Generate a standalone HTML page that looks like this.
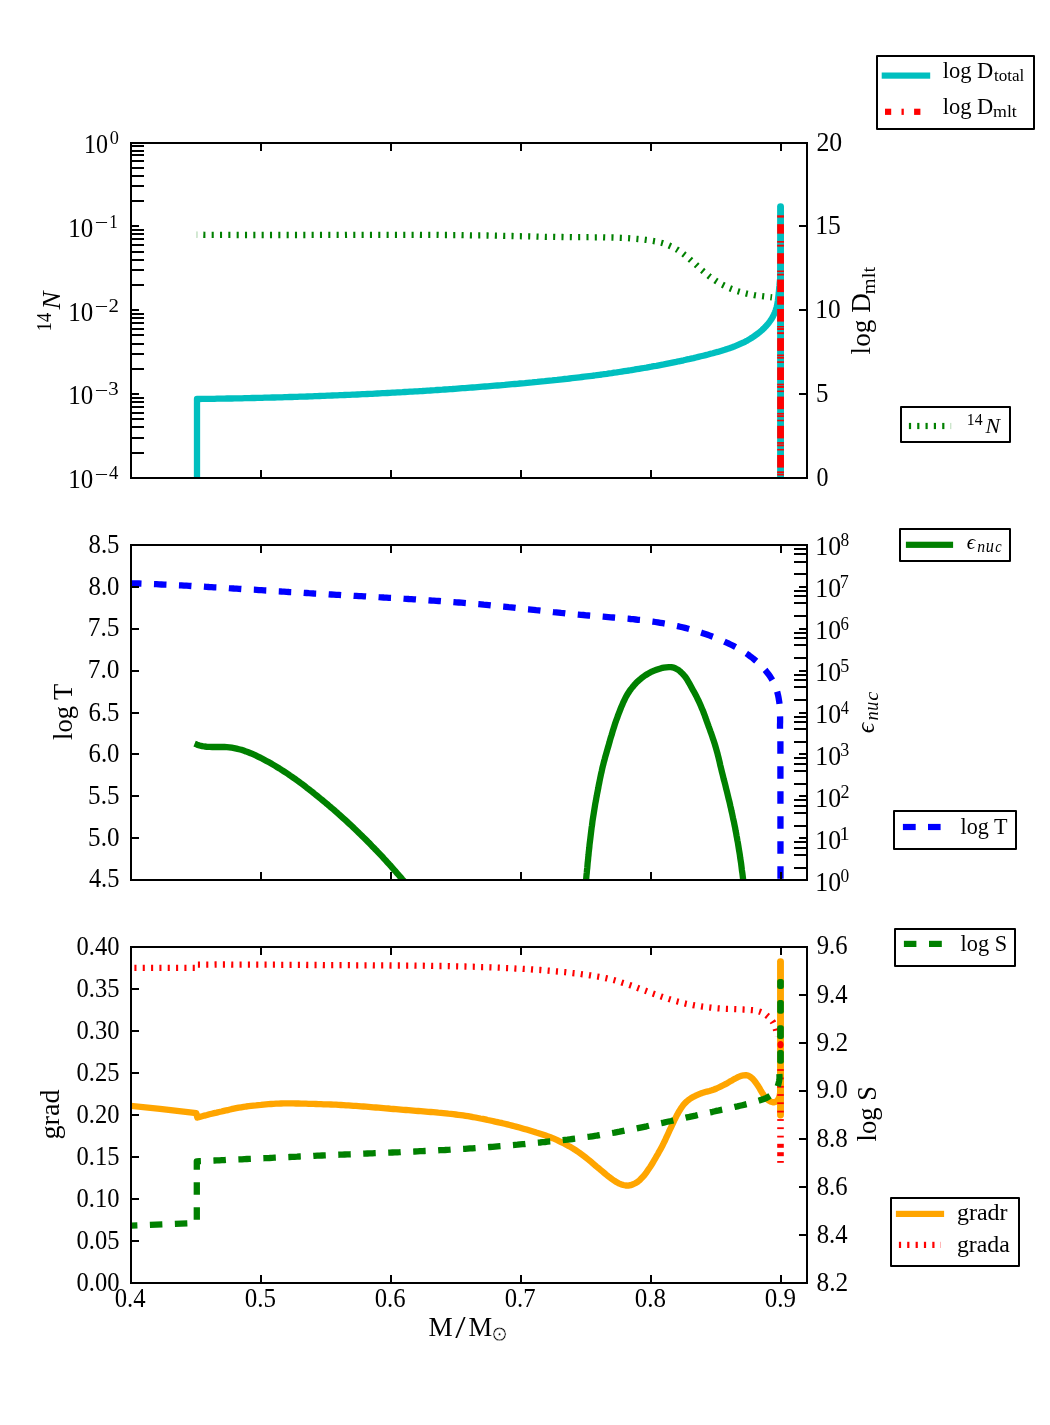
<!DOCTYPE html>
<html lang="en">
<head>
<meta charset="utf-8">
<title>Stellar profile</title>
<style>
html,body{margin:0;padding:0;background:#fff;}
body{width:1050px;height:1425px;overflow:hidden;}
svg{display:block;font-family:"Liberation Serif","DejaVu Serif",serif;fill:#000;}
</style>
</head>
<body>
<svg width="1050" height="1425" viewBox="0 0 1050 1425">
<rect x="0" y="0" width="1050" height="1425" fill="#fff"/>
<defs>
<clipPath id="c0"><rect x="131.00" y="143.00" width="676.00" height="335.00"/></clipPath>
<clipPath id="c1"><rect x="131.00" y="545.00" width="676.00" height="335.00"/></clipPath>
<clipPath id="c2"><rect x="131.00" y="947.00" width="676.00" height="336.00"/></clipPath>
</defs>
<g clip-path="url(#c0)">
<path d="M197.0 234.7L199.5 234.7L202.0 234.7L204.5 234.8L207.0 234.8L209.5 234.8L212.0 234.8L214.5 234.8L217.0 234.9L219.5 234.9L222.0 234.9L224.5 234.9L227.0 234.9L229.5 234.9L232.0 234.9L234.5 235.0L237.0 235.0L239.5 235.0L242.0 235.0L244.5 235.0L247.1 235.0L249.6 235.0L252.1 235.0L254.6 235.0L257.1 235.0L259.6 235.0L262.1 235.0L264.6 235.0L267.1 235.0L269.6 235.0L272.1 235.0L274.6 235.0L277.1 235.0L279.6 235.0L282.1 235.0L284.6 235.0L287.1 235.0L289.7 235.0L292.2 235.0L294.7 235.0L297.2 235.0L299.7 235.0L302.2 235.0L304.7 235.0L307.2 235.0L309.7 234.9L312.2 234.9L314.7 234.9L317.2 234.9L319.7 234.9L322.2 234.9L324.7 234.9L327.3 234.9L329.8 234.9L332.3 234.9L334.8 234.9L337.3 234.9L339.8 234.9L342.3 234.9L344.8 234.9L347.3 234.8L349.8 234.8L352.3 234.8L354.8 234.8L357.3 234.8L359.9 234.8L362.4 234.8L364.9 234.8L367.4 234.8L369.9 234.8L372.4 234.8L374.9 234.8L377.4 234.8L379.9 234.8L382.4 234.8L384.9 234.8L387.4 234.8L389.9 234.8L392.4 234.8L394.9 234.8L397.5 234.8L400.0 234.8L402.5 234.8L405.0 234.8L407.5 234.8L410.0 234.8L412.5 234.8L415.0 234.8L417.5 234.8L420.0 234.9L422.5 234.9L425.0 234.9L427.5 234.9L430.0 234.9L432.5 234.9L435.0 234.9L437.5 234.9L440.0 235.0L442.5 235.0L445.0 235.0L447.5 235.0L450.0 235.0L452.5 235.1L455.0 235.1L457.5 235.1L460.0 235.1L462.5 235.2L465.0 235.2L467.6 235.2L470.1 235.3L472.6 235.3L475.1 235.3L477.6 235.4L480.1 235.4L482.5 235.4L485.0 235.5L487.5 235.5L490.0 235.6L492.5 235.6L495.0 235.7L497.5 235.7L500.0 235.8L502.5 235.8L505.0 235.9L507.5 235.9L510.0 236.0L512.5 236.0L515.0 236.1L517.5 236.2L520.0 236.2L522.5 236.3L525.0 236.3L527.5 236.4L530.0 236.4L532.5 236.5L535.0 236.5L537.5 236.6L540.0 236.7L542.5 236.7L545.0 236.8L547.5 236.8L550.0 236.8L552.5 236.9L555.1 236.9L557.6 237.0L560.1 237.0L562.6 237.0L565.1 237.1L567.6 237.1L570.2 237.1L572.7 237.2L575.2 237.2L577.7 237.2L580.3 237.2L582.8 237.2L585.3 237.2L587.8 237.2L590.4 237.2L592.9 237.3L595.4 237.3L598.0 237.3L600.5 237.3L603.0 237.3L605.6 237.4L608.1 237.4L610.6 237.5L613.1 237.5L615.6 237.6L618.1 237.7L620.7 237.8L623.2 237.9L625.7 238.1L628.1 238.2L630.6 238.4L633.1 238.6L635.6 238.8L638.0 239.0L640.5 239.2L643.0 239.5L645.4 239.8L647.8 240.1L650.3 240.5L652.7 240.9L655.1 241.3L657.5 241.8L659.8 242.4L662.2 243.0L664.5 243.7L666.8 244.5L669.1 245.5L671.3 246.5L673.5 247.6L675.7 248.8L677.8 250.0L679.9 251.4L682.0 252.8L684.0 254.4L686.0 255.9L688.0 257.6L689.9 259.3L691.8 261.0L693.8 262.7L695.7 264.4L697.6 266.2L699.5 267.9L701.4 269.7L703.3 271.3L705.3 273.0L707.2 274.6L709.2 276.2L711.2 277.7L713.3 279.1L715.3 280.5L717.4 281.8L719.5 283.1L721.6 284.3L723.8 285.4L726.0 286.5L728.2 287.6L730.4 288.5L732.7 289.4L735.0 290.3L737.3 291.1L739.7 291.8L742.0 292.5L744.5 293.1L746.9 293.7L749.3 294.2L751.8 294.6L754.3 295.1L756.8 295.5L759.3 295.8L761.8 296.2L764.4 296.5L766.9 296.8L769.5 297.0L772.0 297.3" fill="none" stroke="#008000" stroke-width="6.30" stroke-linejoin="round" stroke-linecap="butt" stroke-dasharray="2.08 6.25" stroke-dashoffset="2.00"/>
<rect x="196.40" y="231.40" width="0.90" height="6.60" fill="#008000" opacity="0.3"/>
<path d="M197 480L197 399.0L197.0 399.0L199.5 399.0L202.0 398.9L204.5 398.9L207.0 398.9L209.5 398.8L212.0 398.8L214.5 398.8L217.0 398.7L219.5 398.7L222.0 398.6L224.5 398.6L227.0 398.5L229.5 398.5L232.0 398.5L234.5 398.4L237.0 398.4L239.5 398.3L242.0 398.3L244.6 398.2L247.1 398.2L249.6 398.1L252.1 398.0L254.6 398.0L257.1 397.9L259.6 397.9L262.1 397.8L264.6 397.7L267.1 397.7L269.6 397.6L272.1 397.5L274.6 397.5L277.1 397.4L279.6 397.3L282.1 397.3L284.6 397.2L287.1 397.1L289.6 397.0L292.1 397.0L294.7 396.9L297.2 396.8L299.7 396.7L302.2 396.6L304.7 396.6L307.2 396.5L309.7 396.4L312.2 396.3L314.7 396.2L317.2 396.1L319.7 396.0L322.2 395.9L324.7 395.8L327.2 395.7L329.7 395.6L332.2 395.5L334.8 395.4L337.3 395.3L339.8 395.2L342.3 395.1L344.8 395.0L347.3 394.9L349.8 394.8L352.3 394.7L354.8 394.6L357.3 394.5L359.8 394.4L362.3 394.2L364.8 394.1L367.3 394.0L369.8 393.9L372.3 393.8L374.8 393.6L377.3 393.5L379.8 393.4L382.4 393.2L384.9 393.1L387.4 393.0L389.9 392.9L392.4 392.7L394.9 392.6L397.4 392.4L399.9 392.3L402.4 392.2L404.9 392.0L407.4 391.9L409.9 391.7L412.4 391.6L414.9 391.4L417.4 391.3L419.9 391.1L422.4 391.0L424.9 390.8L427.4 390.6L429.9 390.5L432.4 390.3L434.9 390.2L437.4 390.0L439.9 389.8L442.4 389.7L444.9 389.5L447.4 389.3L449.9 389.1L452.4 389.0L454.9 388.8L457.4 388.6L459.9 388.4L462.4 388.2L464.9 388.1L467.4 387.9L469.9 387.7L472.4 387.5L474.9 387.3L477.4 387.1L479.9 386.9L482.4 386.7L484.9 386.5L487.4 386.3L489.9 386.1L492.4 385.9L494.9 385.7L497.4 385.5L499.9 385.3L502.3 385.1L504.8 384.9L507.3 384.6L509.8 384.4L512.3 384.2L514.8 384.0L517.3 383.8L519.8 383.5L522.3 383.3L524.8 383.1L527.3 382.8L529.8 382.6L532.2 382.4L534.7 382.1L537.2 381.9L539.7 381.6L542.2 381.4L544.7 381.2L547.2 380.9L549.7 380.6L552.2 380.4L554.6 380.1L557.1 379.9L559.6 379.6L562.1 379.3L564.6 379.0L567.1 378.8L569.6 378.5L572.0 378.2L574.5 377.9L577.0 377.6L579.5 377.3L582.0 377.0L584.5 376.7L586.9 376.4L589.4 376.1L591.9 375.8L594.4 375.5L596.9 375.1L599.4 374.8L601.8 374.5L604.3 374.1L606.8 373.8L609.3 373.4L611.8 373.1L614.2 372.7L616.7 372.4L619.2 372.0L621.7 371.6L624.2 371.2L626.6 370.8L629.1 370.5L631.6 370.1L634.1 369.7L636.6 369.2L639.0 368.8L641.5 368.4L644.0 368.0L646.5 367.6L649.0 367.1L651.4 366.7L653.9 366.2L656.4 365.8L658.9 365.3L661.3 364.8L663.8 364.4L666.3 363.9L668.8 363.4L671.3 362.9L673.7 362.4L676.2 361.9L678.7 361.3L681.2 360.8L683.6 360.3L686.1 359.7L688.6 359.2L691.0 358.6L693.5 358.1L695.9 357.5L698.4 356.9L700.8 356.3L703.3 355.7L705.7 355.1L708.1 354.5L710.5 353.8L712.9 353.2L715.3 352.5L717.7 351.9L720.1 351.2L722.5 350.5L724.8 349.8L727.1 349.0L729.5 348.3L731.8 347.4L734.1 346.6L736.3 345.7L738.6 344.7L740.8 343.7L743.1 342.7L745.3 341.6L747.5 340.4L749.7 339.1L751.8 337.8L753.9 336.4L756.0 334.9L758.1 333.4L760.0 331.8L762.0 330.1L763.8 328.4L765.6 326.6L767.3 324.7L768.9 322.8L770.3 320.8L771.7 318.7L772.9 316.6L774.0 314.4L775.0 312.2L775.8 310.0L776.5 307.6L777.1 305.3L777.5 302.9L777.9 300.4L778.2 297.9L778.5 295.4L778.8 292.9L779.0 290.4L779.2 287.8L779.5 285.3L779.7 282.7L780.0 280.1L780.3 277.6L780.6 275.0L780.6 260" fill="none" stroke="#00bfbf" stroke-width="6.30" stroke-linejoin="round" stroke-linecap="butt"/>
<path d="M780.55 480L780.55 206.6" fill="none" stroke="#00bfbf" stroke-width="6.90" stroke-linejoin="round" stroke-linecap="round"/>
<rect x="777.15" y="215.30" width="6.80" height="2.30" fill="#ff0000"/>
<rect x="777.15" y="224.20" width="6.80" height="9.50" fill="#ff0000"/>
<rect x="777.15" y="241.00" width="6.80" height="1.70" fill="#ff0000"/>
<rect x="777.15" y="244.70" width="6.80" height="1.90" fill="#ff0000"/>
<rect x="777.15" y="253.20" width="6.80" height="10.50" fill="#ff0000"/>
<rect x="777.15" y="270.50" width="6.80" height="1.60" fill="#ff0000"/>
<rect x="777.15" y="273.70" width="6.80" height="1.80" fill="#ff0000"/>
<rect x="777.15" y="279.50" width="6.80" height="12.60" fill="#ff0000"/>
<rect x="777.15" y="296.30" width="6.80" height="8.40" fill="#ff0000"/>
<rect x="777.15" y="309.00" width="6.80" height="12.60" fill="#ff0000"/>
<rect x="777.15" y="326.00" width="6.80" height="1.50" fill="#ff0000"/>
<rect x="777.15" y="328.10" width="6.80" height="1.90" fill="#ff0000"/>
<rect x="777.15" y="332.20" width="6.80" height="1.90" fill="#ff0000"/>
<rect x="777.15" y="338.20" width="6.80" height="12.60" fill="#ff0000"/>
<rect x="777.15" y="354.50" width="6.80" height="1.70" fill="#ff0000"/>
<rect x="777.15" y="356.80" width="6.80" height="1.90" fill="#ff0000"/>
<rect x="777.15" y="361.30" width="6.80" height="1.60" fill="#ff0000"/>
<rect x="777.15" y="367.40" width="6.80" height="12.60" fill="#ff0000"/>
<rect x="777.15" y="383.70" width="6.80" height="1.70" fill="#ff0000"/>
<rect x="777.15" y="386.00" width="6.80" height="1.90" fill="#ff0000"/>
<rect x="777.15" y="390.50" width="6.80" height="1.60" fill="#ff0000"/>
<rect x="777.15" y="396.60" width="6.80" height="12.60" fill="#ff0000"/>
<rect x="777.15" y="412.90" width="6.80" height="1.70" fill="#ff0000"/>
<rect x="777.15" y="415.20" width="6.80" height="1.90" fill="#ff0000"/>
<rect x="777.15" y="419.70" width="6.80" height="1.60" fill="#ff0000"/>
<rect x="777.15" y="425.80" width="6.80" height="12.60" fill="#ff0000"/>
<rect x="777.15" y="442.10" width="6.80" height="1.70" fill="#ff0000"/>
<rect x="777.15" y="444.40" width="6.80" height="1.90" fill="#ff0000"/>
<rect x="777.15" y="448.90" width="6.80" height="1.60" fill="#ff0000"/>
<rect x="777.15" y="455.00" width="6.80" height="12.60" fill="#ff0000"/>
<rect x="777.15" y="471.30" width="6.80" height="1.70" fill="#ff0000"/>
<rect x="777.15" y="473.60" width="6.80" height="1.90" fill="#ff0000"/>
<rect x="777.15" y="478.10" width="6.80" height="1.60" fill="#ff0000"/>
</g>
<g clip-path="url(#c1)">
<path d="M129.0 583.2L131.5 583.3L134.0 583.4L136.5 583.5L139.0 583.5L141.5 583.6L144.0 583.7L146.5 583.8L149.0 583.9L151.5 584.0L154.0 584.1L156.5 584.2L159.0 584.4L161.5 584.5L164.0 584.6L166.5 584.7L169.0 584.8L171.5 584.9L174.0 585.1L176.5 585.2L179.0 585.3L181.5 585.4L184.0 585.6L186.5 585.7L189.0 585.8L191.5 586.0L194.0 586.1L196.5 586.3L199.0 586.4L201.5 586.5L204.0 586.7L206.5 586.8L209.0 587.0L211.5 587.1L214.0 587.3L216.5 587.4L219.0 587.6L221.5 587.7L224.0 587.9L226.5 588.0L229.0 588.2L231.5 588.3L234.0 588.5L236.5 588.6L239.0 588.8L241.5 589.0L244.0 589.1L246.5 589.3L249.0 589.4L251.5 589.6L254.0 589.7L256.5 589.9L259.0 590.1L261.5 590.2L264.0 590.4L266.5 590.5L269.0 590.7L271.5 590.9L274.0 591.0L276.5 591.2L279.0 591.3L281.5 591.5L284.0 591.6L286.5 591.8L289.0 592.0L291.5 592.1L294.0 592.3L296.5 592.4L299.0 592.6L301.5 592.7L304.0 592.9L306.5 593.0L309.0 593.2L311.5 593.3L314.0 593.5L316.5 593.6L319.0 593.8L321.5 593.9L324.0 594.1L326.5 594.2L328.9 594.4L331.4 594.5L333.9 594.6L336.4 594.8L338.9 594.9L341.4 595.1L343.9 595.2L346.4 595.4L348.9 595.5L351.4 595.6L353.9 595.8L356.4 595.9L358.9 596.1L361.4 596.2L363.9 596.3L366.4 596.5L368.9 596.6L371.4 596.8L373.9 596.9L376.4 597.0L378.9 597.2L381.4 597.3L383.9 597.5L386.4 597.6L388.9 597.8L391.4 597.9L393.9 598.1L396.4 598.2L398.9 598.4L401.4 598.5L403.9 598.7L406.4 598.8L408.9 599.0L411.4 599.1L413.9 599.3L416.4 599.5L418.9 599.6L421.3 599.8L423.8 600.0L426.3 600.1L428.8 600.3L431.3 600.5L433.8 600.6L436.3 600.8L438.8 601.0L441.3 601.2L443.8 601.4L446.3 601.5L448.8 601.7L451.3 601.9L453.8 602.1L456.3 602.3L458.8 602.5L461.3 602.7L463.8 602.9L466.3 603.1L468.8 603.3L471.3 603.6L473.8 603.8L476.3 604.0L478.8 604.2L481.2 604.4L483.7 604.7L486.2 604.9L488.7 605.1L491.2 605.4L493.7 605.6L496.2 605.9L498.7 606.1L501.2 606.4L503.7 606.6L506.2 606.9L508.7 607.2L511.2 607.4L513.7 607.7L516.2 608.0L518.7 608.2L521.2 608.5L523.7 608.8L526.1 609.1L528.6 609.3L531.1 609.6L533.6 609.9L536.1 610.2L538.6 610.4L541.1 610.7L543.6 611.0L546.1 611.3L548.6 611.5L551.1 611.8L553.6 612.1L556.1 612.3L558.5 612.6L561.0 612.9L563.5 613.1L566.0 613.4L568.5 613.6L571.0 613.9L573.5 614.1L576.0 614.4L578.5 614.6L580.9 614.8L583.4 615.0L585.9 615.3L588.4 615.5L590.9 615.7L593.4 615.9L595.9 616.1L598.3 616.3L600.8 616.5L603.3 616.7L605.8 616.9L608.3 617.1L610.8 617.3L613.2 617.5L615.7 617.7L618.2 617.9L620.7 618.1L623.2 618.3L625.6 618.5L628.1 618.7L630.6 619.0L633.1 619.2L635.6 619.5L638.0 619.8L640.5 620.0L643.0 620.3L645.5 620.6L647.9 620.9L650.4 621.3L652.9 621.6L655.4 622.0L657.8 622.4L660.3 622.8L662.8 623.2L665.2 623.6L667.7 624.1L670.2 624.6L672.7 625.1L675.1 625.6L677.6 626.1L680.1 626.7L682.5 627.3L685.0 627.9L687.4 628.5L689.9 629.2L692.3 629.9L694.8 630.6L697.2 631.3L699.6 632.1L702.1 632.9L704.5 633.7L706.9 634.5L709.2 635.4L711.6 636.3L714.0 637.2L716.3 638.1L718.6 639.1L720.9 640.0L723.2 641.0L725.5 642.1L727.8 643.1L730.0 644.2L732.2 645.3L734.4 646.4L736.6 647.6L738.7 648.8L740.9 650.0L743.0 651.3L745.0 652.6L747.1 654.0L749.1 655.4L751.1 656.9L753.0 658.4L754.9 660.0L756.8 661.6L758.7 663.3L760.5 665.1L762.3 666.9L764.0 668.8L765.7 670.7L767.3 672.7L768.9 674.7L770.3 676.8L771.6 678.9L772.9 681.1L774.0 683.3L775.0 685.5L775.9 687.8L776.7 690.2L777.4 692.5L778.0 694.9L778.5 697.3L778.9 699.7L779.3 702.2L779.6 704.7L779.7 707.2L779.9 709.7L780.0 712.2L780.0 714.7L780.1 717.3L780.1 719.8L780.1 722.4L780.0 724.9L780.0 727.4L780.0 730.0L780.1 732.5L780.1 735.0L780.2 737.5L780.4 740.0L780.5 885" fill="none" stroke="#0000ff" stroke-width="6.30" stroke-linejoin="round" stroke-linecap="butt" stroke-dasharray="12.5 12.5"/>
<path d="M194.6 743.7L197.1 744.7L199.6 745.5L202.2 746.1L204.7 746.5L207.2 746.8L209.7 746.9L212.2 747.0L214.6 747.0L217.1 747.0L219.6 747.0L222.0 747.0L224.5 747.0L226.9 747.1L229.3 747.3L231.7 747.7L234.1 748.1L236.5 748.6L238.9 749.2L241.3 749.8L243.6 750.6L245.9 751.4L248.3 752.3L250.6 753.2L252.9 754.2L255.2 755.2L257.5 756.3L259.7 757.4L262.0 758.5L264.2 759.7L266.4 760.9L268.6 762.1L270.8 763.3L273.0 764.6L275.2 765.9L277.3 767.2L279.5 768.5L281.6 769.9L283.7 771.2L285.9 772.6L288.0 774.0L290.0 775.5L292.1 776.9L294.2 778.3L296.2 779.8L298.3 781.3L300.3 782.8L302.4 784.3L304.4 785.8L306.4 787.4L308.4 788.9L310.4 790.5L312.4 792.0L314.3 793.6L316.3 795.2L318.3 796.8L320.2 798.4L322.2 800.0L324.1 801.6L326.0 803.2L328.0 804.8L329.9 806.5L331.8 808.1L333.7 809.7L335.6 811.4L337.5 813.0L339.3 814.7L341.2 816.4L343.1 818.1L344.9 819.7L346.8 821.4L348.6 823.1L350.5 824.8L352.3 826.5L354.1 828.3L355.9 830.0L357.7 831.7L359.5 833.5L361.3 835.2L363.1 837.0L364.9 838.7L366.7 840.5L368.4 842.3L370.2 844.1L371.9 845.9L373.7 847.7L375.4 849.5L377.2 851.3L378.9 853.1L380.6 854.9L382.3 856.7L384.0 858.6L385.7 860.4L387.4 862.3L389.1 864.2L390.8 866.0L392.4 867.9L394.1 869.8L395.8 871.7L397.4 873.6L399.1 875.5L400.7 877.4L402.3 879.3L404.0 881.2L405.6 883.2L407.2 885.1L408.8 887.1L410.4 889.0L412.0 891.0" fill="none" stroke="#008000" stroke-width="6.30" stroke-linejoin="round" stroke-linecap="butt"/>
<path d="M584.5 895.0L584.8 892.5L585.0 890.0L585.3 887.5L585.5 885.0L585.8 882.6L586.1 880.1L586.3 877.6L586.5 875.1L586.8 872.6L587.0 870.1L587.3 867.6L587.5 865.1L587.7 862.6L588.0 860.2L588.2 857.7L588.5 855.2L588.7 852.7L589.0 850.2L589.3 847.7L589.5 845.2L589.8 842.7L590.1 840.3L590.4 837.8L590.7 835.3L591.0 832.8L591.3 830.3L591.6 827.8L592.0 825.4L592.3 822.9L592.6 820.4L593.0 817.9L593.4 815.5L593.8 813.0L594.2 810.5L594.6 808.1L595.0 805.6L595.4 803.1L595.9 800.7L596.3 798.2L596.8 795.7L597.2 793.3L597.7 790.8L598.2 788.4L598.6 785.9L599.1 783.5L599.6 781.0L600.1 778.5L600.6 776.1L601.1 773.7L601.7 771.2L602.2 768.8L602.8 766.3L603.4 763.9L604.0 761.5L604.7 759.1L605.3 756.7L606.0 754.3L606.7 751.8L607.4 749.4L608.1 747.0L608.8 744.6L609.5 742.2L610.1 739.8L610.8 737.4L611.6 735.0L612.3 732.6L613.0 730.2L613.8 727.8L614.5 725.5L615.3 723.1L616.1 720.7L617.0 718.4L617.8 716.0L618.7 713.7L619.6 711.3L620.5 709.0L621.4 706.7L622.4 704.4L623.4 702.1L624.5 699.8L625.6 697.5L626.8 695.4L628.1 693.2L629.4 691.2L630.9 689.1L632.5 687.1L634.1 685.2L635.8 683.3L637.5 681.6L639.4 679.9L641.3 678.3L643.3 676.8L645.4 675.3L647.5 674.0L649.7 672.8L651.9 671.6L654.2 670.6L656.5 669.7L658.9 668.9L661.3 668.2L663.8 667.7L666.2 667.4L668.8 667.2L671.2 667.1L673.7 667.6L676.0 668.7L678.1 669.8L680.1 671.4L682.0 673.2L683.7 675.0L685.3 676.9L686.7 678.9L688.0 681.1L689.3 683.3L690.5 685.5L691.7 687.7L692.9 689.9L694.1 692.1L695.3 694.3L696.5 696.5L697.6 698.8L698.7 701.0L699.7 703.3L700.7 705.6L701.7 707.9L702.7 710.2L703.6 712.5L704.5 714.8L705.3 717.2L706.2 719.6L707.0 721.9L707.9 724.3L708.7 726.6L709.6 729.0L710.4 731.3L711.3 733.7L712.1 736.0L712.9 738.4L713.7 740.8L714.5 743.2L715.2 745.5L715.9 747.9L716.6 750.3L717.3 752.8L717.9 755.2L718.5 757.6L719.1 760.0L719.7 762.5L720.2 764.9L720.8 767.3L721.4 769.8L722.0 772.2L722.6 774.6L723.2 777.1L723.8 779.5L724.5 781.9L725.1 784.3L725.7 786.8L726.3 789.2L726.9 791.6L727.5 794.0L728.1 796.5L728.7 798.9L729.3 801.3L729.9 803.8L730.4 806.2L731.0 808.6L731.5 811.1L732.1 813.5L732.6 816.0L733.1 818.4L733.7 820.9L734.2 823.3L734.7 825.8L735.2 828.2L735.6 830.7L736.1 833.1L736.5 835.6L737.0 838.0L737.4 840.5L737.9 843.0L738.3 845.4L738.7 847.9L739.1 850.4L739.5 852.8L739.9 855.3L740.2 857.8L740.6 860.3L741.0 862.7L741.3 865.2L741.6 867.7L741.9 870.2L742.3 872.7L742.6 875.1L742.9 877.6L743.2 880.1L743.5 882.6L743.8 885.1L744.1 887.5L744.4 890.0L744.7 892.5L745.0 895.0" fill="none" stroke="#008000" stroke-width="6.30" stroke-linejoin="round" stroke-linecap="butt"/>
</g>
<g clip-path="url(#c2)">
<path d="M129.00 1105.70 L160.00 1108.90 L196.30 1113.20L197.3 1117.6L199.7 1116.9L202.1 1116.3L204.5 1115.6L207.0 1115.0L209.4 1114.3L211.8 1113.7L214.2 1113.1L216.7 1112.6L219.1 1112.0L221.5 1111.5L224.0 1110.9L226.4 1110.3L228.9 1109.8L231.3 1109.2L233.8 1108.7L236.2 1108.2L238.7 1107.7L241.2 1107.3L243.6 1106.9L246.1 1106.5L248.6 1106.2L251.0 1105.9L253.5 1105.6L256.0 1105.4L258.5 1105.1L261.0 1104.9L263.5 1104.6L266.0 1104.4L268.5 1104.2L271.0 1104.0L273.5 1103.8L276.0 1103.7L278.5 1103.6L281.0 1103.5L283.5 1103.4L286.0 1103.4L288.5 1103.4L291.0 1103.4L293.5 1103.4L296.0 1103.5L298.5 1103.5L301.0 1103.6L303.5 1103.6L306.0 1103.7L308.5 1103.8L311.0 1103.8L313.5 1103.9L316.0 1104.0L318.5 1104.1L321.0 1104.2L323.5 1104.3L326.0 1104.4L328.5 1104.4L331.0 1104.5L333.5 1104.6L336.0 1104.7L338.5 1104.9L341.0 1105.0L343.5 1105.1L346.0 1105.3L348.5 1105.4L351.0 1105.6L353.5 1105.8L356.0 1105.9L358.5 1106.1L361.0 1106.3L363.5 1106.5L366.0 1106.7L368.5 1106.9L370.9 1107.1L373.4 1107.3L375.9 1107.5L378.4 1107.7L380.9 1107.9L383.4 1108.1L385.9 1108.3L388.4 1108.5L390.9 1108.8L393.4 1109.0L395.9 1109.2L398.4 1109.4L400.9 1109.6L403.4 1109.8L405.9 1110.0L408.4 1110.2L410.9 1110.4L413.4 1110.6L415.8 1110.8L418.3 1111.0L420.8 1111.2L423.3 1111.4L425.8 1111.6L428.3 1111.8L430.8 1112.0L433.3 1112.2L435.8 1112.4L438.3 1112.7L440.8 1112.9L443.3 1113.1L445.8 1113.4L448.3 1113.7L450.7 1113.9L453.2 1114.2L455.7 1114.5L458.2 1114.8L460.7 1115.1L463.1 1115.4L465.6 1115.8L468.1 1116.2L470.6 1116.6L473.0 1117.1L475.5 1117.5L477.9 1118.0L480.4 1118.5L482.8 1118.9L485.3 1119.4L487.7 1120.0L490.2 1120.5L492.6 1121.0L495.1 1121.6L497.5 1122.1L500.0 1122.7L502.4 1123.2L504.8 1123.8L507.3 1124.4L509.7 1125.0L512.1 1125.6L514.5 1126.2L517.0 1126.9L519.4 1127.5L521.8 1128.2L524.2 1128.9L526.6 1129.6L529.0 1130.3L531.4 1131.0L533.8 1131.7L536.2 1132.5L538.6 1133.2L541.0 1134.0L543.3 1134.8L545.7 1135.6L548.1 1136.4L550.4 1137.3L552.7 1138.2L555.0 1139.2L557.3 1140.2L559.6 1141.3L561.8 1142.4L564.1 1143.5L566.3 1144.7L568.5 1145.9L570.7 1147.1L572.8 1148.4L574.9 1149.7L577.0 1151.1L579.1 1152.5L581.1 1154.0L583.1 1155.5L585.1 1157.0L587.1 1158.6L589.0 1160.1L590.9 1161.7L592.8 1163.3L594.7 1165.0L596.6 1166.6L598.6 1168.2L600.5 1169.8L602.4 1171.4L604.3 1173.0L606.2 1174.6L608.2 1176.2L610.2 1177.7L612.2 1179.2L614.3 1180.7L616.4 1182.1L618.6 1183.3L620.8 1184.2L623.3 1185.0L625.7 1185.5L628.2 1185.7L630.6 1185.2L633.1 1184.3L635.3 1183.2L637.4 1182.0L639.4 1180.4L641.2 1178.6L643.0 1176.8L644.6 1174.9L646.1 1172.9L647.5 1170.8L648.9 1168.7L650.3 1166.7L651.7 1164.6L653.0 1162.4L654.2 1160.3L655.5 1158.1L656.7 1155.9L658.0 1153.8L659.2 1151.6L660.4 1149.4L661.6 1147.2L662.8 1145.0L663.9 1142.7L665.0 1140.5L666.0 1138.2L667.1 1135.9L668.1 1133.7L669.1 1131.4L670.2 1129.1L671.3 1126.8L672.3 1124.6L673.4 1122.3L674.5 1120.0L675.6 1117.8L676.7 1115.6L677.9 1113.4L679.2 1111.2L680.5 1109.1L681.9 1107.0L683.4 1104.9L685.0 1103.1L686.8 1101.4L688.8 1099.8L690.9 1098.3L693.0 1097.1L695.2 1095.9L697.5 1094.9L699.8 1093.9L702.1 1093.0L704.5 1092.3L706.9 1091.6L709.4 1091.0L711.8 1090.3L714.1 1089.5L716.5 1088.5L718.7 1087.5L721.0 1086.4L723.2 1085.3L725.5 1084.1L727.7 1082.9L729.8 1081.6L732.0 1080.4L734.1 1079.1L736.4 1078.0L738.6 1076.8L741.0 1075.8L743.4 1075.4L745.9 1075.2L748.3 1075.6L750.5 1077.0L752.4 1078.5L754.1 1080.3L755.6 1082.4L757.1 1084.5L758.5 1086.6L759.8 1088.7L761.0 1090.9L762.3 1093.0L763.7 1095.1L765.3 1097.1L766.9 1099.1L768.8 1100.6L771.0 1101.8L773.5 1102.4L776.0 1101.7L777.7 1100.3L778.9 1098.0L779.6 1095.5L780.1 1093.1L780.4 1090.6L780.5 1088.0L780.5 1070" fill="none" stroke="#ffa500" stroke-width="6.30" stroke-linejoin="round" stroke-linecap="butt"/>
<path d="M780.5 961.6L780.5 1115.1" fill="none" stroke="#ffa500" stroke-width="6.90" stroke-linejoin="round" stroke-linecap="round"/>
<path d="M126.07 967.90 L196.00 967.90" fill="none" stroke="#ff0000" stroke-width="6.30" stroke-linejoin="round" stroke-linecap="butt" stroke-dasharray="2.08 6.25"/>
<path d="M197.9 964.6L200.4 964.6L202.9 964.6L205.4 964.6L207.9 964.6L210.4 964.6L212.9 964.6L215.4 964.5L217.9 964.5L220.4 964.5L222.9 964.5L225.4 964.5L227.9 964.5L230.4 964.5L232.9 964.6L235.4 964.6L237.9 964.6L240.4 964.6L242.9 964.6L245.4 964.6L247.9 964.6L250.4 964.6L252.9 964.6L255.4 964.6L257.9 964.6L260.4 964.6L262.9 964.7L265.4 964.7L267.9 964.7L270.4 964.7L272.9 964.7L275.4 964.7L277.9 964.7L280.4 964.8L282.9 964.8L285.4 964.8L287.9 964.8L290.4 964.8L292.9 964.8L295.4 964.9L297.9 964.9L300.4 964.9L302.9 964.9L305.4 964.9L307.9 965.0L310.4 965.0L312.9 965.0L315.4 965.0L317.9 965.0L320.4 965.0L322.9 965.1L325.4 965.1L327.9 965.1L330.4 965.1L332.9 965.1L335.4 965.1L337.9 965.2L340.4 965.2L342.9 965.2L345.4 965.2L347.9 965.2L350.4 965.2L352.9 965.3L355.4 965.3L357.9 965.3L360.4 965.3L362.9 965.3L365.4 965.3L367.9 965.3L370.4 965.3L372.9 965.4L375.4 965.4L377.9 965.4L380.4 965.4L382.9 965.4L385.4 965.4L387.9 965.4L390.4 965.5L392.9 965.5L395.4 965.5L397.9 965.5L400.4 965.5L402.9 965.6L405.4 965.6L407.9 965.6L410.4 965.6L412.9 965.6L415.4 965.7L417.9 965.7L420.4 965.7L422.9 965.7L425.4 965.8L427.9 965.8L430.4 965.8L432.9 965.9L435.4 965.9L437.9 966.0L440.4 966.0L442.9 966.0L445.4 966.1L447.9 966.1L450.4 966.2L452.9 966.2L455.4 966.3L457.9 966.3L460.4 966.4L462.9 966.5L465.4 966.5L467.9 966.6L470.4 966.7L472.9 966.7L475.4 966.8L477.9 966.9L480.4 967.0L482.9 967.1L485.4 967.1L487.9 967.2L490.4 967.3L492.9 967.4L495.4 967.5L497.9 967.6L500.4 967.7L502.9 967.8L505.4 968.0L507.9 968.1L510.4 968.2L512.9 968.3L515.4 968.5L517.9 968.6L520.4 968.7L522.9 968.9L525.4 969.0L527.9 969.2L530.4 969.3L532.9 969.5L535.4 969.7L537.9 969.9L540.4 970.0L542.9 970.2L545.4 970.4L547.9 970.6L550.4 970.8L552.9 971.1L555.3 971.3L557.8 971.5L560.3 971.7L562.8 972.0L565.3 972.2L567.8 972.5L570.2 972.8L572.7 973.1L575.2 973.3L577.6 973.6L580.1 973.9L582.6 974.3L585.0 974.6L587.5 974.9L589.9 975.3L592.4 975.7L594.8 976.1L597.3 976.5L599.7 976.9L602.2 977.4L604.6 977.9L607.0 978.4L609.5 979.0L611.9 979.6L614.3 980.2L616.7 980.9L619.2 981.6L621.6 982.4L624.0 983.1L626.4 983.9L628.8 984.8L631.2 985.6L633.6 986.4L636.0 987.3L638.3 988.2L640.7 989.1L643.1 990.0L645.5 990.8L647.8 991.7L650.2 992.6L652.6 993.5L654.9 994.3L657.3 995.1L659.6 996.0L661.9 996.8L664.3 997.6L666.6 998.3L669.0 999.1L671.3 999.8L673.7 1000.5L676.1 1001.2L678.4 1001.8L680.8 1002.4L683.2 1003.0L685.6 1003.6L688.0 1004.1L690.5 1004.6L692.9 1005.1L695.3 1005.5L697.8 1006.0L700.3 1006.3L702.7 1006.7L705.2 1007.0L707.7 1007.3L710.2 1007.6L712.7 1007.9L715.3 1008.1L717.8 1008.3L720.3 1008.5L722.9 1008.6L725.4 1008.8L728.0 1008.9L730.5 1009.0L733.1 1009.1L735.6 1009.2L738.2 1009.3L740.7 1009.4L743.2 1009.5L745.7 1009.6L748.1 1009.8L750.6 1010.0L753.0 1010.2L755.3 1010.5L757.6 1011.0L759.9 1011.7L762.1 1012.6L764.2 1013.7L766.3 1015.0L768.2 1016.6L770.0 1018.3L771.6 1020.2L773.1 1022.3L774.2 1024.5L775.2 1026.8L775.9 1029.3L776.4 1031.8L776.7 1034.4L776.8 1037.0" fill="none" stroke="#ff0000" stroke-width="6.30" stroke-linejoin="round" stroke-linecap="butt" stroke-dasharray="2.08 6.25"/>
<rect x="777.20" y="1069.10" width="6.60" height="1.80" fill="#ff0000"/>
<rect x="777.20" y="1077.50" width="6.60" height="1.80" fill="#ff0000"/>
<rect x="777.20" y="1085.90" width="6.60" height="1.80" fill="#ff0000"/>
<rect x="777.20" y="1094.10" width="6.60" height="1.80" fill="#ff0000"/>
<rect x="777.20" y="1102.30" width="6.60" height="1.80" fill="#ff0000"/>
<rect x="777.20" y="1110.70" width="6.60" height="1.80" fill="#ff0000"/>
<rect x="777.20" y="1119.10" width="6.60" height="1.80" fill="#ff0000"/>
<rect x="777.20" y="1127.30" width="6.60" height="1.80" fill="#ff0000"/>
<rect x="777.20" y="1135.70" width="6.60" height="1.80" fill="#ff0000"/>
<rect x="777.20" y="1143.80" width="6.60" height="4.00" fill="#ff0000"/>
<rect x="777.20" y="1152.20" width="6.60" height="4.00" fill="#ff0000"/>
<rect x="777.20" y="1161.00" width="6.60" height="1.80" fill="#ff0000"/>
<ellipse cx="780.5" cy="1044.7" rx="3.1" ry="3.6" fill="#ff0000"/>
<path d="M128.00 1225.80 L190.00 1223.30 L196.80 1222.70L196.8 1161.3L199.3 1161.2L201.8 1161.1L204.3 1161.0L206.8 1160.9L209.3 1160.7L211.8 1160.6L214.3 1160.5L216.8 1160.4L219.4 1160.3L221.9 1160.2L224.4 1160.1L226.9 1159.9L229.4 1159.8L231.9 1159.7L234.4 1159.6L236.9 1159.5L239.4 1159.4L241.9 1159.3L244.4 1159.1L246.9 1159.0L249.4 1158.9L251.9 1158.8L254.4 1158.7L256.9 1158.5L259.5 1158.4L262.0 1158.3L264.5 1158.2L267.0 1158.1L269.5 1158.0L272.0 1157.8L274.5 1157.7L277.0 1157.6L279.5 1157.5L282.0 1157.4L284.5 1157.2L287.0 1157.1L289.5 1157.0L292.0 1156.9L294.6 1156.8L297.1 1156.7L299.6 1156.5L302.1 1156.4L304.6 1156.3L307.1 1156.2L309.6 1156.1L312.1 1156.0L314.6 1155.8L317.1 1155.7L319.6 1155.6L322.1 1155.5L324.6 1155.4L327.1 1155.3L329.7 1155.2L332.2 1155.0L334.7 1154.9L337.2 1154.8L339.7 1154.7L342.2 1154.6L344.7 1154.5L347.2 1154.4L349.7 1154.3L352.2 1154.2L354.7 1154.1L357.2 1154.0L359.7 1153.9L362.2 1153.7L364.8 1153.6L367.3 1153.5L369.8 1153.4L372.3 1153.3L374.8 1153.2L377.3 1153.1L379.8 1153.0L382.3 1152.9L384.8 1152.8L387.3 1152.7L389.8 1152.6L392.3 1152.5L394.8 1152.4L397.3 1152.3L399.8 1152.2L402.3 1152.0L404.9 1151.9L407.4 1151.8L409.9 1151.7L412.4 1151.6L414.9 1151.5L417.4 1151.4L419.9 1151.2L422.4 1151.1L424.9 1151.0L427.4 1150.9L429.9 1150.7L432.4 1150.6L434.9 1150.5L437.4 1150.4L439.9 1150.2L442.4 1150.1L444.9 1150.0L447.4 1149.8L449.9 1149.7L452.4 1149.5L455.0 1149.4L457.5 1149.2L460.0 1149.1L462.5 1148.9L465.0 1148.8L467.5 1148.6L470.0 1148.4L472.5 1148.3L475.0 1148.1L477.5 1147.9L480.0 1147.8L482.5 1147.6L485.0 1147.4L487.5 1147.2L490.0 1147.0L492.5 1146.8L495.0 1146.6L497.5 1146.4L500.0 1146.2L502.5 1146.0L505.0 1145.8L507.5 1145.6L510.0 1145.4L512.5 1145.1L515.0 1144.9L517.5 1144.7L520.0 1144.4L522.5 1144.2L525.0 1144.0L527.5 1143.7L530.0 1143.5L532.5 1143.2L535.0 1143.0L537.5 1142.7L540.0 1142.5L542.5 1142.2L545.0 1142.0L547.5 1141.7L550.0 1141.4L552.5 1141.2L555.0 1140.9L557.5 1140.7L560.0 1140.4L562.5 1140.1L565.0 1139.8L567.4 1139.6L569.9 1139.3L572.4 1139.0L574.9 1138.7L577.4 1138.4L579.9 1138.1L582.4 1137.7L584.9 1137.4L587.3 1137.0L589.8 1136.7L592.3 1136.3L594.8 1135.9L597.3 1135.5L599.7 1135.2L602.2 1134.7L604.7 1134.3L607.2 1133.9L609.7 1133.5L612.1 1133.0L614.6 1132.6L617.1 1132.1L619.5 1131.7L622.0 1131.2L624.5 1130.7L626.9 1130.3L629.4 1129.8L631.9 1129.3L634.3 1128.8L636.8 1128.3L639.2 1127.8L641.7 1127.3L644.2 1126.8L646.6 1126.3L649.1 1125.7L651.5 1125.2L654.0 1124.7L656.4 1124.2L658.9 1123.6L661.3 1123.1L663.8 1122.6L666.2 1122.0L668.6 1121.5L671.1 1121.0L673.5 1120.4L676.0 1119.9L678.4 1119.4L680.9 1118.8L683.3 1118.3L685.7 1117.7L688.2 1117.2L690.6 1116.6L693.1 1116.1L695.5 1115.6L698.0 1115.0L700.4 1114.5L702.9 1113.9L705.3 1113.4L707.8 1112.8L710.2 1112.3L712.7 1111.8L715.2 1111.2L717.6 1110.7L720.1 1110.1L722.6 1109.6L725.1 1109.1L727.5 1108.5L730.0 1108.0L732.5 1107.5L735.0 1106.9L737.5 1106.4L739.9 1105.8L742.4 1105.2L744.8 1104.6L747.3 1104.0L749.7 1103.4L752.1 1102.7L754.5 1102.0L756.9 1101.3L759.2 1100.6L761.5 1099.8L763.8 1099.0L766.0 1098.1L768.1 1097.0L770.1 1095.8L772.0 1094.4L773.7 1092.8L775.3 1090.9L776.6 1088.7L777.7 1086.3L778.5 1083.8L779.1 1081.1L779.5 1078.5L779.5 1075.8L779.3 1073.3" fill="none" stroke="#008000" stroke-width="6.30" stroke-linejoin="round" stroke-linecap="butt" stroke-dasharray="12.5 12.5" stroke-dashoffset="3.10"/>
<rect x="777.15" y="978.90" width="6.70" height="10.00" fill="#008000" rx="2.5"/>
<rect x="777.15" y="1000.00" width="6.70" height="13.70" fill="#008000" rx="2.5"/>
<rect x="777.15" y="1025.30" width="6.70" height="13.60" fill="#008000" rx="2.5"/>
<rect x="777.15" y="1050.00" width="6.70" height="13.70" fill="#008000" rx="2.5"/>
</g>
<rect x="130.00" y="142.00" width="678.00" height="2.00" fill="#000"/>
<rect x="130.00" y="477.00" width="678.00" height="2.00" fill="#000"/>
<rect x="130.00" y="142.00" width="2.00" height="337.00" fill="#000"/>
<rect x="806.00" y="142.00" width="2.00" height="337.00" fill="#000"/>
<rect x="130.00" y="544.00" width="678.00" height="2.00" fill="#000"/>
<rect x="130.00" y="879.00" width="678.00" height="2.00" fill="#000"/>
<rect x="130.00" y="544.00" width="2.00" height="337.00" fill="#000"/>
<rect x="806.00" y="544.00" width="2.00" height="337.00" fill="#000"/>
<rect x="130.00" y="946.00" width="678.00" height="2.00" fill="#000"/>
<rect x="130.00" y="1282.00" width="678.00" height="2.00" fill="#000"/>
<rect x="130.00" y="946.00" width="2.00" height="338.00" fill="#000"/>
<rect x="806.00" y="946.00" width="2.00" height="338.00" fill="#000"/>
<rect x="260.00" y="143.00" width="2.00" height="8.00" fill="#000"/>
<rect x="260.00" y="470.00" width="2.00" height="8.00" fill="#000"/>
<rect x="390.00" y="143.00" width="2.00" height="8.00" fill="#000"/>
<rect x="390.00" y="470.00" width="2.00" height="8.00" fill="#000"/>
<rect x="520.00" y="143.00" width="2.00" height="8.00" fill="#000"/>
<rect x="520.00" y="470.00" width="2.00" height="8.00" fill="#000"/>
<rect x="650.00" y="143.00" width="2.00" height="8.00" fill="#000"/>
<rect x="650.00" y="470.00" width="2.00" height="8.00" fill="#000"/>
<rect x="780.00" y="143.00" width="2.00" height="8.00" fill="#000"/>
<rect x="260.00" y="545.00" width="2.00" height="8.00" fill="#000"/>
<rect x="260.00" y="872.00" width="2.00" height="8.00" fill="#000"/>
<rect x="390.00" y="545.00" width="2.00" height="8.00" fill="#000"/>
<rect x="390.00" y="872.00" width="2.00" height="8.00" fill="#000"/>
<rect x="520.00" y="545.00" width="2.00" height="8.00" fill="#000"/>
<rect x="520.00" y="872.00" width="2.00" height="8.00" fill="#000"/>
<rect x="650.00" y="545.00" width="2.00" height="8.00" fill="#000"/>
<rect x="650.00" y="872.00" width="2.00" height="8.00" fill="#000"/>
<rect x="780.00" y="545.00" width="2.00" height="8.00" fill="#000"/>
<rect x="780.00" y="872.00" width="2.00" height="8.00" fill="#000"/>
<rect x="260.00" y="947.00" width="2.00" height="8.00" fill="#000"/>
<rect x="260.00" y="1275.00" width="2.00" height="8.00" fill="#000"/>
<rect x="390.00" y="947.00" width="2.00" height="8.00" fill="#000"/>
<rect x="390.00" y="1275.00" width="2.00" height="8.00" fill="#000"/>
<rect x="520.00" y="947.00" width="2.00" height="8.00" fill="#000"/>
<rect x="520.00" y="1275.00" width="2.00" height="8.00" fill="#000"/>
<rect x="650.00" y="947.00" width="2.00" height="8.00" fill="#000"/>
<rect x="650.00" y="1275.00" width="2.00" height="8.00" fill="#000"/>
<rect x="780.00" y="947.00" width="2.00" height="8.00" fill="#000"/>
<rect x="780.00" y="1275.00" width="2.00" height="8.00" fill="#000"/>
<rect x="131.00" y="200.00" width="13.00" height="2.00" fill="#000"/>
<rect x="131.00" y="185.00" width="13.00" height="2.00" fill="#000"/>
<rect x="131.00" y="175.00" width="13.00" height="2.00" fill="#000"/>
<rect x="131.00" y="167.00" width="13.00" height="2.00" fill="#000"/>
<rect x="131.00" y="160.00" width="13.00" height="2.00" fill="#000"/>
<rect x="131.00" y="154.00" width="13.00" height="2.00" fill="#000"/>
<rect x="131.00" y="150.00" width="13.00" height="2.00" fill="#000"/>
<rect x="131.00" y="145.00" width="13.00" height="2.00" fill="#000"/>
<rect x="131.00" y="225.00" width="8.00" height="2.00" fill="#000"/>
<rect x="131.00" y="284.00" width="13.00" height="2.00" fill="#000"/>
<rect x="131.00" y="269.00" width="13.00" height="2.00" fill="#000"/>
<rect x="131.00" y="259.00" width="13.00" height="2.00" fill="#000"/>
<rect x="131.00" y="251.00" width="13.00" height="2.00" fill="#000"/>
<rect x="131.00" y="244.00" width="13.00" height="2.00" fill="#000"/>
<rect x="131.00" y="238.00" width="13.00" height="2.00" fill="#000"/>
<rect x="131.00" y="233.00" width="13.00" height="2.00" fill="#000"/>
<rect x="131.00" y="229.00" width="13.00" height="2.00" fill="#000"/>
<rect x="131.00" y="309.00" width="8.00" height="2.00" fill="#000"/>
<rect x="131.00" y="368.00" width="13.00" height="2.00" fill="#000"/>
<rect x="131.00" y="353.00" width="13.00" height="2.00" fill="#000"/>
<rect x="131.00" y="343.00" width="13.00" height="2.00" fill="#000"/>
<rect x="131.00" y="334.00" width="13.00" height="2.00" fill="#000"/>
<rect x="131.00" y="328.00" width="13.00" height="2.00" fill="#000"/>
<rect x="131.00" y="322.00" width="13.00" height="2.00" fill="#000"/>
<rect x="131.00" y="317.00" width="13.00" height="2.00" fill="#000"/>
<rect x="131.00" y="313.00" width="13.00" height="2.00" fill="#000"/>
<rect x="131.00" y="393.00" width="8.00" height="2.00" fill="#000"/>
<rect x="131.00" y="452.00" width="13.00" height="2.00" fill="#000"/>
<rect x="131.00" y="437.00" width="13.00" height="2.00" fill="#000"/>
<rect x="131.00" y="426.00" width="13.00" height="2.00" fill="#000"/>
<rect x="131.00" y="418.00" width="13.00" height="2.00" fill="#000"/>
<rect x="131.00" y="412.00" width="13.00" height="2.00" fill="#000"/>
<rect x="131.00" y="406.00" width="13.00" height="2.00" fill="#000"/>
<rect x="131.00" y="401.00" width="13.00" height="2.00" fill="#000"/>
<rect x="131.00" y="397.00" width="13.00" height="2.00" fill="#000"/>
<rect x="799.00" y="393.00" width="8.00" height="2.00" fill="#000"/>
<rect x="799.00" y="309.00" width="8.00" height="2.00" fill="#000"/>
<rect x="799.00" y="225.00" width="8.00" height="2.00" fill="#000"/>
<rect x="131.00" y="837.00" width="8.00" height="2.00" fill="#000"/>
<rect x="131.00" y="795.00" width="8.00" height="2.00" fill="#000"/>
<rect x="131.00" y="753.00" width="8.00" height="2.00" fill="#000"/>
<rect x="131.00" y="712.00" width="8.00" height="2.00" fill="#000"/>
<rect x="131.00" y="670.00" width="8.00" height="2.00" fill="#000"/>
<rect x="131.00" y="628.00" width="8.00" height="2.00" fill="#000"/>
<rect x="131.00" y="586.00" width="8.00" height="2.00" fill="#000"/>
<rect x="794.00" y="573.00" width="13.00" height="2.00" fill="#000"/>
<rect x="794.00" y="561.00" width="13.00" height="2.00" fill="#000"/>
<rect x="794.00" y="553.00" width="13.00" height="2.00" fill="#000"/>
<rect x="794.00" y="548.00" width="13.00" height="2.00" fill="#000"/>
<rect x="799.00" y="586.00" width="8.00" height="2.00" fill="#000"/>
<rect x="794.00" y="615.00" width="13.00" height="2.00" fill="#000"/>
<rect x="794.00" y="602.00" width="13.00" height="2.00" fill="#000"/>
<rect x="794.00" y="595.00" width="13.00" height="2.00" fill="#000"/>
<rect x="794.00" y="590.00" width="13.00" height="2.00" fill="#000"/>
<rect x="799.00" y="628.00" width="8.00" height="2.00" fill="#000"/>
<rect x="794.00" y="657.00" width="13.00" height="2.00" fill="#000"/>
<rect x="794.00" y="644.00" width="13.00" height="2.00" fill="#000"/>
<rect x="794.00" y="637.00" width="13.00" height="2.00" fill="#000"/>
<rect x="794.00" y="632.00" width="13.00" height="2.00" fill="#000"/>
<rect x="799.00" y="670.00" width="8.00" height="2.00" fill="#000"/>
<rect x="794.00" y="699.00" width="13.00" height="2.00" fill="#000"/>
<rect x="794.00" y="686.00" width="13.00" height="2.00" fill="#000"/>
<rect x="794.00" y="679.00" width="13.00" height="2.00" fill="#000"/>
<rect x="794.00" y="674.00" width="13.00" height="2.00" fill="#000"/>
<rect x="799.00" y="712.00" width="8.00" height="2.00" fill="#000"/>
<rect x="794.00" y="741.00" width="13.00" height="2.00" fill="#000"/>
<rect x="794.00" y="728.00" width="13.00" height="2.00" fill="#000"/>
<rect x="794.00" y="721.00" width="13.00" height="2.00" fill="#000"/>
<rect x="794.00" y="716.00" width="13.00" height="2.00" fill="#000"/>
<rect x="799.00" y="753.00" width="8.00" height="2.00" fill="#000"/>
<rect x="794.00" y="783.00" width="13.00" height="2.00" fill="#000"/>
<rect x="794.00" y="770.00" width="13.00" height="2.00" fill="#000"/>
<rect x="794.00" y="763.00" width="13.00" height="2.00" fill="#000"/>
<rect x="794.00" y="757.00" width="13.00" height="2.00" fill="#000"/>
<rect x="799.00" y="795.00" width="8.00" height="2.00" fill="#000"/>
<rect x="794.00" y="825.00" width="13.00" height="2.00" fill="#000"/>
<rect x="794.00" y="812.00" width="13.00" height="2.00" fill="#000"/>
<rect x="794.00" y="805.00" width="13.00" height="2.00" fill="#000"/>
<rect x="794.00" y="799.00" width="13.00" height="2.00" fill="#000"/>
<rect x="799.00" y="837.00" width="8.00" height="2.00" fill="#000"/>
<rect x="794.00" y="867.00" width="13.00" height="2.00" fill="#000"/>
<rect x="794.00" y="854.00" width="13.00" height="2.00" fill="#000"/>
<rect x="794.00" y="847.00" width="13.00" height="2.00" fill="#000"/>
<rect x="794.00" y="841.00" width="13.00" height="2.00" fill="#000"/>
<rect x="131.00" y="1240.00" width="8.00" height="2.00" fill="#000"/>
<rect x="131.00" y="1198.00" width="8.00" height="2.00" fill="#000"/>
<rect x="131.00" y="1156.00" width="8.00" height="2.00" fill="#000"/>
<rect x="131.00" y="1114.00" width="8.00" height="2.00" fill="#000"/>
<rect x="131.00" y="1072.00" width="8.00" height="2.00" fill="#000"/>
<rect x="131.00" y="1030.00" width="8.00" height="2.00" fill="#000"/>
<rect x="131.00" y="988.00" width="8.00" height="2.00" fill="#000"/>
<rect x="799.00" y="1234.00" width="8.00" height="2.00" fill="#000"/>
<rect x="799.00" y="1186.00" width="8.00" height="2.00" fill="#000"/>
<rect x="799.00" y="1138.00" width="8.00" height="2.00" fill="#000"/>
<rect x="799.00" y="1090.00" width="8.00" height="2.00" fill="#000"/>
<rect x="799.00" y="1042.00" width="8.00" height="2.00" fill="#000"/>
<rect x="799.00" y="994.00" width="8.00" height="2.00" fill="#000"/>
<rect x="877.00" y="56.00" width="157.00" height="73.00" fill="#fff" stroke="#000" stroke-width="2" stroke-linejoin="round"/>
<rect x="881.70" y="72.50" width="48.50" height="6.20" fill="#00bfbf"/>
<rect x="885.00" y="108.70" width="6.20" height="6.20" fill="#ff0000"/>
<rect x="901.50" y="108.70" width="2.30" height="6.20" fill="#ff0000"/>
<rect x="914.10" y="108.70" width="6.30" height="6.20" fill="#ff0000"/>
<rect x="901.00" y="407.00" width="109.00" height="35.00" fill="#fff" stroke="#000" stroke-width="2" stroke-linejoin="round"/>
<rect x="908.90" y="422.90" width="2.20" height="6.20" fill="#008000"/>
<rect x="917.20" y="422.90" width="2.20" height="6.20" fill="#008000"/>
<rect x="925.50" y="422.90" width="2.20" height="6.20" fill="#008000"/>
<rect x="933.80" y="422.90" width="2.20" height="6.20" fill="#008000"/>
<rect x="942.20" y="422.90" width="2.20" height="6.20" fill="#008000"/>
<rect x="950.50" y="422.90" width="0.70" height="6.20" fill="#9c9"/>
<rect x="900.00" y="529.00" width="110.00" height="32.00" fill="#fff" stroke="#000" stroke-width="2" stroke-linejoin="round"/>
<rect x="905.90" y="541.70" width="47.20" height="6.20" fill="#008000"/>
<rect x="894.00" y="811.00" width="122.00" height="38.00" fill="#fff" stroke="#000" stroke-width="2" stroke-linejoin="round"/>
<rect x="902.90" y="823.90" width="12.80" height="6.20" fill="#0000ff"/>
<rect x="928.00" y="823.90" width="12.60" height="6.20" fill="#0000ff"/>
<rect x="895.00" y="929.00" width="120.00" height="37.00" fill="#fff" stroke="#000" stroke-width="2" stroke-linejoin="round"/>
<rect x="903.90" y="940.80" width="12.50" height="6.20" fill="#008000"/>
<rect x="929.00" y="940.80" width="12.80" height="6.20" fill="#008000"/>
<rect x="891.00" y="1198.00" width="128.00" height="68.00" fill="#fff" stroke="#000" stroke-width="2" stroke-linejoin="round"/>
<rect x="895.90" y="1210.80" width="48.20" height="6.20" fill="#ffa500"/>
<rect x="898.90" y="1241.80" width="2.20" height="6.20" fill="#ff0000"/>
<rect x="907.20" y="1241.80" width="2.20" height="6.20" fill="#ff0000"/>
<rect x="915.60" y="1241.80" width="2.20" height="6.20" fill="#ff0000"/>
<rect x="923.90" y="1241.80" width="2.20" height="6.20" fill="#ff0000"/>
<rect x="932.30" y="1241.80" width="2.20" height="6.20" fill="#ff0000"/>
<rect x="940.00" y="1241.80" width="0.70" height="6.20" fill="#f99"/>
<text><tspan x="84.02" y="153.00" font-size="26.90" textLength="24.03" lengthAdjust="spacingAndGlyphs">10</tspan><tspan x="109.63" y="143.90" font-size="19.20" textLength="9.14" lengthAdjust="spacingAndGlyphs">0</tspan></text>
<text><tspan x="68.25" y="236.82" font-size="26.90" textLength="24.93" lengthAdjust="spacingAndGlyphs">10</tspan><tspan x="94.88" y="229.42" font-size="19.30" textLength="13.48" lengthAdjust="spacingAndGlyphs">−</tspan><tspan x="109.37" y="227.72" font-size="19.65" textLength="8.53" lengthAdjust="spacingAndGlyphs">1</tspan></text>
<text><tspan x="68.25" y="320.64" font-size="26.90" textLength="24.93" lengthAdjust="spacingAndGlyphs">10</tspan><tspan x="94.88" y="313.24" font-size="19.30" textLength="13.48" lengthAdjust="spacingAndGlyphs">−</tspan><tspan x="108.55" y="311.54" font-size="19.65" textLength="10.43" lengthAdjust="spacingAndGlyphs">2</tspan></text>
<text><tspan x="68.25" y="404.47" font-size="26.90" textLength="24.93" lengthAdjust="spacingAndGlyphs">10</tspan><tspan x="94.88" y="397.07" font-size="19.30" textLength="13.48" lengthAdjust="spacingAndGlyphs">−</tspan><tspan x="108.22" y="395.37" font-size="19.65" textLength="10.43" lengthAdjust="spacingAndGlyphs">3</tspan></text>
<text><tspan x="68.25" y="488.29" font-size="26.90" textLength="24.93" lengthAdjust="spacingAndGlyphs">10</tspan><tspan x="94.88" y="480.89" font-size="19.30" textLength="13.48" lengthAdjust="spacingAndGlyphs">−</tspan><tspan x="108.91" y="479.19" font-size="19.65" textLength="9.39" lengthAdjust="spacingAndGlyphs">4</tspan></text>
<text><tspan x="816.45" y="486.29" font-size="26.90" textLength="12.00" lengthAdjust="spacingAndGlyphs">0</tspan></text>
<text><tspan x="816.03" y="402.47" font-size="26.90" textLength="12.44" lengthAdjust="spacingAndGlyphs">5</tspan></text>
<text><tspan x="815.22" y="317.64" font-size="26.90" textLength="25.38" lengthAdjust="spacingAndGlyphs">10</tspan></text>
<text><tspan x="815.20" y="233.82" font-size="26.90" textLength="25.60" lengthAdjust="spacingAndGlyphs">15</tspan></text>
<text><tspan x="816.39" y="150.80" font-size="26.90" textLength="25.81" lengthAdjust="spacingAndGlyphs">20</tspan></text>
<text><tspan x="88.92" y="887.45" font-size="26.90" textLength="30.55" lengthAdjust="spacingAndGlyphs">4.5</tspan></text>
<text><tspan x="88.12" y="845.54" font-size="26.90" textLength="31.36" lengthAdjust="spacingAndGlyphs">5.0</tspan></text>
<text><tspan x="88.12" y="803.83" font-size="26.90" textLength="31.36" lengthAdjust="spacingAndGlyphs">5.5</tspan></text>
<text><tspan x="88.53" y="761.71" font-size="26.90" textLength="30.95" lengthAdjust="spacingAndGlyphs">6.0</tspan></text>
<text><tspan x="88.53" y="720.90" font-size="26.90" textLength="30.95" lengthAdjust="spacingAndGlyphs">6.5</tspan></text>
<text><tspan x="87.71" y="677.59" font-size="26.90" textLength="31.78" lengthAdjust="spacingAndGlyphs">7.0</tspan></text>
<text><tspan x="87.71" y="635.97" font-size="26.90" textLength="31.78" lengthAdjust="spacingAndGlyphs">7.5</tspan></text>
<text><tspan x="88.53" y="595.16" font-size="26.90" textLength="30.95" lengthAdjust="spacingAndGlyphs">8.0</tspan></text>
<text><tspan x="88.53" y="553.25" font-size="26.90" textLength="30.95" lengthAdjust="spacingAndGlyphs">8.5</tspan></text>
<text><tspan x="815.29" y="891.35" font-size="26.90" textLength="25.71" lengthAdjust="spacingAndGlyphs">10</tspan><tspan x="840.46" y="881.75" font-size="19.20" textLength="8.69" lengthAdjust="spacingAndGlyphs">0</tspan></text>
<text><tspan x="815.29" y="848.84" font-size="26.90" textLength="25.71" lengthAdjust="spacingAndGlyphs">10</tspan><tspan x="839.42" y="839.84" font-size="19.20" textLength="10.13" lengthAdjust="spacingAndGlyphs">1</tspan></text>
<text><tspan x="815.29" y="806.93" font-size="26.90" textLength="25.71" lengthAdjust="spacingAndGlyphs">10</tspan><tspan x="840.44" y="797.93" font-size="19.20" textLength="9.01" lengthAdjust="spacingAndGlyphs">2</tspan></text>
<text><tspan x="815.29" y="765.01" font-size="26.90" textLength="25.71" lengthAdjust="spacingAndGlyphs">10</tspan><tspan x="840.16" y="756.01" font-size="19.20" textLength="9.01" lengthAdjust="spacingAndGlyphs">3</tspan></text>
<text><tspan x="815.29" y="722.90" font-size="26.90" textLength="25.71" lengthAdjust="spacingAndGlyphs">10</tspan><tspan x="840.75" y="714.10" font-size="19.20" textLength="8.11" lengthAdjust="spacingAndGlyphs">4</tspan></text>
<text><tspan x="815.29" y="680.89" font-size="26.90" textLength="25.71" lengthAdjust="spacingAndGlyphs">10</tspan><tspan x="840.16" y="672.19" font-size="19.66" textLength="9.01" lengthAdjust="spacingAndGlyphs">5</tspan></text>
<text><tspan x="815.29" y="639.47" font-size="26.90" textLength="25.71" lengthAdjust="spacingAndGlyphs">10</tspan><tspan x="840.48" y="630.27" font-size="19.20" textLength="8.39" lengthAdjust="spacingAndGlyphs">6</tspan></text>
<text><tspan x="815.29" y="596.56" font-size="26.90" textLength="25.71" lengthAdjust="spacingAndGlyphs">10</tspan><tspan x="839.87" y="588.36" font-size="19.66" textLength="9.01" lengthAdjust="spacingAndGlyphs">7</tspan></text>
<text><tspan x="815.29" y="554.65" font-size="26.90" textLength="25.71" lengthAdjust="spacingAndGlyphs">10</tspan><tspan x="840.46" y="546.45" font-size="19.20" textLength="8.69" lengthAdjust="spacingAndGlyphs">8</tspan></text>
<text><tspan x="76.53" y="1291.00" font-size="26.90" textLength="42.93" lengthAdjust="spacingAndGlyphs">0.00</tspan></text>
<text><tspan x="76.53" y="1248.99" font-size="26.90" textLength="42.93" lengthAdjust="spacingAndGlyphs">0.05</tspan></text>
<text><tspan x="76.53" y="1207.08" font-size="26.90" textLength="42.93" lengthAdjust="spacingAndGlyphs">0.10</tspan></text>
<text><tspan x="76.53" y="1165.16" font-size="26.90" textLength="42.93" lengthAdjust="spacingAndGlyphs">0.15</tspan></text>
<text><tspan x="76.53" y="1123.25" font-size="26.90" textLength="42.93" lengthAdjust="spacingAndGlyphs">0.20</tspan></text>
<text><tspan x="76.53" y="1081.34" font-size="26.90" textLength="42.93" lengthAdjust="spacingAndGlyphs">0.25</tspan></text>
<text><tspan x="76.53" y="1039.43" font-size="26.90" textLength="42.93" lengthAdjust="spacingAndGlyphs">0.30</tspan></text>
<text><tspan x="76.53" y="996.71" font-size="26.90" textLength="42.93" lengthAdjust="spacingAndGlyphs">0.35</tspan></text>
<text><tspan x="76.53" y="954.50" font-size="26.90" textLength="42.93" lengthAdjust="spacingAndGlyphs">0.40</tspan></text>
<text><tspan x="816.61" y="1290.70" font-size="26.90" textLength="31.68" lengthAdjust="spacingAndGlyphs">8.2</tspan></text>
<text><tspan x="816.63" y="1242.80" font-size="26.90" textLength="30.86" lengthAdjust="spacingAndGlyphs">8.4</tspan></text>
<text><tspan x="816.63" y="1194.90" font-size="26.90" textLength="30.86" lengthAdjust="spacingAndGlyphs">8.6</tspan></text>
<text><tspan x="816.62" y="1147.30" font-size="26.90" textLength="31.26" lengthAdjust="spacingAndGlyphs">8.8</tspan></text>
<text><tspan x="816.62" y="1098.40" font-size="26.90" textLength="31.26" lengthAdjust="spacingAndGlyphs">9.0</tspan></text>
<text><tspan x="816.61" y="1050.50" font-size="26.90" textLength="31.68" lengthAdjust="spacingAndGlyphs">9.2</tspan></text>
<text><tspan x="816.63" y="1002.60" font-size="26.90" textLength="30.86" lengthAdjust="spacingAndGlyphs">9.4</tspan></text>
<text><tspan x="816.63" y="954.00" font-size="26.90" textLength="30.86" lengthAdjust="spacingAndGlyphs">9.6</tspan></text>
<text><tspan x="114.68" y="1306.80" font-size="26.90" textLength="30.86" lengthAdjust="spacingAndGlyphs">0.4</tspan></text>
<text><tspan x="244.67" y="1306.80" font-size="26.90" textLength="31.26" lengthAdjust="spacingAndGlyphs">0.5</tspan></text>
<text><tspan x="374.68" y="1306.80" font-size="26.90" textLength="30.86" lengthAdjust="spacingAndGlyphs">0.6</tspan></text>
<text><tspan x="504.68" y="1306.80" font-size="26.90" textLength="30.86" lengthAdjust="spacingAndGlyphs">0.7</tspan></text>
<text><tspan x="634.67" y="1306.80" font-size="26.90" textLength="31.26" lengthAdjust="spacingAndGlyphs">0.8</tspan></text>
<text><tspan x="764.67" y="1306.80" font-size="26.90" textLength="31.26" lengthAdjust="spacingAndGlyphs">0.9</tspan></text>
<text><tspan x="428.57" y="1336.40" font-size="28.04" textLength="24.21" lengthAdjust="spacingAndGlyphs">M</tspan><tspan x="455.20" y="1338.11" font-size="31.27" textLength="10.37" lengthAdjust="spacingAndGlyphs">/</tspan><tspan x="468.58" y="1336.40" font-size="28.04" textLength="23.69" lengthAdjust="spacingAndGlyphs">M</tspan><tspan x="491.28" y="1339.98" font-size="21.70" textLength="16.53" lengthAdjust="spacingAndGlyphs" font-family="'DejaVu Math TeX Gyre', 'DejaVu Serif', serif" stroke="#fff" stroke-width="0.6">⊙</tspan></text>
<text transform="translate(51.00 329.80) rotate(-90)"><tspan x="-1.44" y="0.00" font-size="19.94" textLength="18.43" lengthAdjust="spacingAndGlyphs">14</tspan><tspan x="20.42" y="9.00" font-size="25.90" textLength="18.07" lengthAdjust="spacingAndGlyphs" font-style="italic">N</tspan></text>
<text transform="translate(869.90 354.00) rotate(-90)"><tspan x="-0.42" y="0.00" font-size="26.60" textLength="61.17" lengthAdjust="spacingAndGlyphs">log D</tspan><tspan x="59.88" y="5.10" font-size="17.92" textLength="27.25" lengthAdjust="spacingAndGlyphs">mlt</tspan></text>
<text transform="translate(71.90 739.50) rotate(-90)"><tspan x="-0.41" y="0.00" font-size="26.60" textLength="56.15" lengthAdjust="spacingAndGlyphs">log T</tspan></text>
<text transform="translate(874.30 732.90) rotate(-90)"><tspan x="-0.41" y="0.00" font-size="25.60" textLength="10.50" lengthAdjust="spacingAndGlyphs" font-style="italic">ϵ</tspan><tspan x="12.32" y="3.30" font-size="19.61" textLength="9.26" lengthAdjust="spacingAndGlyphs" font-style="italic">n</tspan><tspan x="22.06" y="3.30" font-size="20.27" textLength="9.01" lengthAdjust="spacingAndGlyphs" font-style="italic">u</tspan><tspan x="32.08" y="3.30" font-size="19.61" textLength="9.05" lengthAdjust="spacingAndGlyphs" font-style="italic">c</tspan></text>
<text transform="translate(59.10 1138.60) rotate(-90)"><tspan x="-0.88" y="0.00" font-size="27.02" textLength="49.98" lengthAdjust="spacingAndGlyphs">grad</tspan></text>
<text transform="translate(876.00 1141.00) rotate(-90)"><tspan x="-0.41" y="0.00" font-size="26.60" textLength="55.30" lengthAdjust="spacingAndGlyphs">log S</tspan></text>
<text><tspan x="942.75" y="77.90" font-size="22.90" textLength="50.63" lengthAdjust="spacingAndGlyphs">log D</tspan><tspan x="993.90" y="81.40" font-size="16.50" textLength="30.31" lengthAdjust="spacingAndGlyphs">total</tspan></text>
<text><tspan x="942.75" y="113.90" font-size="22.90" textLength="50.63" lengthAdjust="spacingAndGlyphs">log D</tspan><tspan x="993.02" y="117.40" font-size="16.92" textLength="23.82" lengthAdjust="spacingAndGlyphs">mlt</tspan></text>
<text><tspan x="966.77" y="424.90" font-size="16.97" textLength="15.78" lengthAdjust="spacingAndGlyphs">14</tspan><tspan x="985.44" y="433.10" font-size="21.79" textLength="14.53" lengthAdjust="spacingAndGlyphs" font-style="italic">N</tspan></text>
<text><tspan x="966.87" y="549.10" font-size="21.06" textLength="8.40" lengthAdjust="spacingAndGlyphs" font-style="italic">ϵ</tspan><tspan x="977.21" y="552.00" font-size="17.75" textLength="7.89" lengthAdjust="spacingAndGlyphs" font-style="italic">n</tspan><tspan x="985.73" y="552.00" font-size="18.35" textLength="8.18" lengthAdjust="spacingAndGlyphs" font-style="italic">u</tspan><tspan x="995.37" y="552.00" font-size="17.75" textLength="6.42" lengthAdjust="spacingAndGlyphs" font-style="italic">c</tspan></text>
<text><tspan x="960.56" y="834.20" font-size="22.90" textLength="46.87" lengthAdjust="spacingAndGlyphs">log T</tspan></text>
<text><tspan x="960.55" y="951.10" font-size="22.90" textLength="46.50" lengthAdjust="spacingAndGlyphs">log S</tspan></text>
<text><tspan x="956.95" y="1220.00" font-size="22.90" textLength="50.57" lengthAdjust="spacingAndGlyphs">gradr</tspan></text>
<text><tspan x="956.96" y="1251.60" font-size="22.90" textLength="52.90" lengthAdjust="spacingAndGlyphs">grada</tspan></text>
</svg>
</body>
</html>
